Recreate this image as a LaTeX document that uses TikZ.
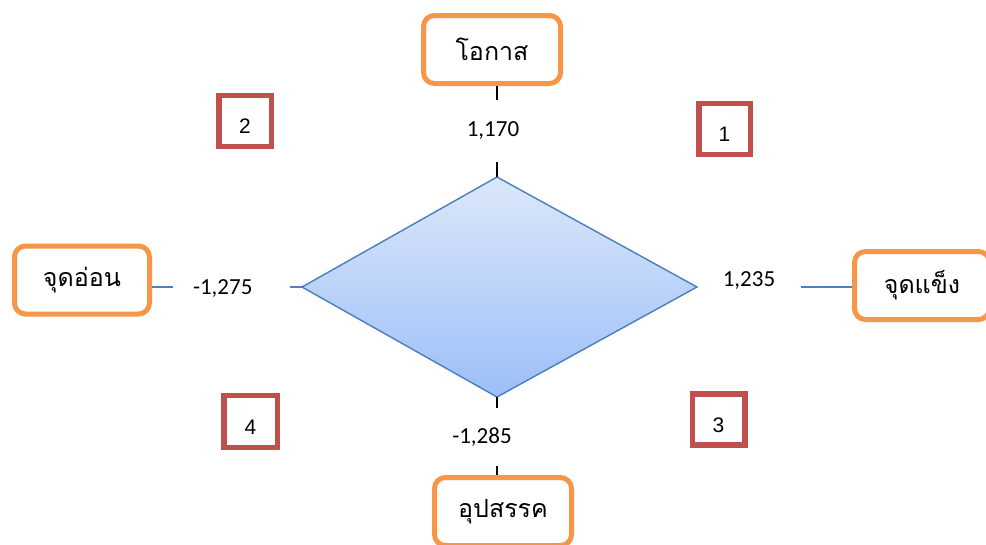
\documentclass[tikz,border=0pt]{standalone}
\usepackage{fontspec}
\newfontfamily\thaifont[Script=Thai]{Loma}
\newfontfamily\numfont{Carlito}
\newfontfamily\arialfont{Liberation Sans}
\definecolor{orangeb}{HTML}{F79646}
\definecolor{redb}{HTML}{C0504D}
\definecolor{blueline}{HTML}{4F81BD}
\definecolor{diaedge}{HTML}{4A7EBB}
\definecolor{diatop}{HTML}{DCE7FA}
\definecolor{diabot}{HTML}{9CBFF8}
\begin{document}
\begin{tikzpicture}[x=1pt,y=-1pt,
  thaibox/.style={draw=orangeb, line width=5pt, rounded corners=11pt, fill=white,
    minimum width=137pt, minimum height=68pt, inner sep=0pt,
    font=\thaifont\fontsize{25}{30}\selectfont},
  numbox/.style={draw=redb, line width=5.5pt, minimum width=52.5pt, minimum height=51pt,
    inner sep=0pt, text height=25pt, text depth=0pt,
    font=\arialfont\fontsize{21}{25}\selectfont},
  vallabel/.style={inner sep=0pt, font=\numfont\fontsize{23}{27}\selectfont},
  conn/.style={draw=black, line width=1.3pt},
  connb/.style={draw=blueline, line width=1.3pt}]
\useasboundingbox (0,0) rectangle (986,544);
% diamond
\coordinate (dt) at (497,177);
\coordinate (dr) at (697,287);
\coordinate (db) at (497,397);
\coordinate (dl) at (302,287);
\path[draw=diaedge, line width=1.4pt, top color=diatop, bottom color=diabot]
  (dt) -- (dr) -- (db) -- (dl) -- cycle;
% boxes
\node[thaibox] (top) at (492,49.5) {โอกาส};
\node[thaibox, minimum width=135pt, minimum height=68pt] (left) at (82,280) {จุดอ่อน};
\node[thaibox, minimum width=135pt] (right) at (922,285.5) {จุดแข็ง};
\node[thaibox] (bot) at (503,511.5) {อุปสรรค};
% value labels
\node[vallabel, minimum height=62pt] (v1) at (493,131) {1,170};
\node[vallabel, minimum width=117pt, text width=77pt, inner xsep=20pt, align=left] (v2) at (231.5,289) {-1,275};
\node[vallabel, minimum width=103pt] (v3) at (749,281) {1,235};
\node[vallabel, minimum height=58pt] (v4) at (482,437) {-1,285};
% connectors
\draw[conn] (dt |- top.south) -- (dt |- v1.north);
\draw[conn] (dt |- v1.south) -- (dt);
\draw[connb] (left.east |- dl) -- (v2.west |- dl);
\draw[connb] (v2.east |- dl) -- (dl);
\draw[connb] (v3.east |- dr) -- (right.west |- dr);
\draw[conn] (db) -- (db |- v4.north);
\draw[conn] (db |- v4.south) -- (db |- bot.north);
% quadrant numbers
\node[numbox] (q2) at (245,121) {2};
\node[numbox, minimum width=51.5pt] (q1) at (724.5,129) {1};
\node[numbox, minimum width=53.5pt, minimum height=52pt] (q4) at (250.5,421.5) {4};
\node[numbox] (q3) at (718.5,419.5) {3};
\end{tikzpicture}
\end{document}
